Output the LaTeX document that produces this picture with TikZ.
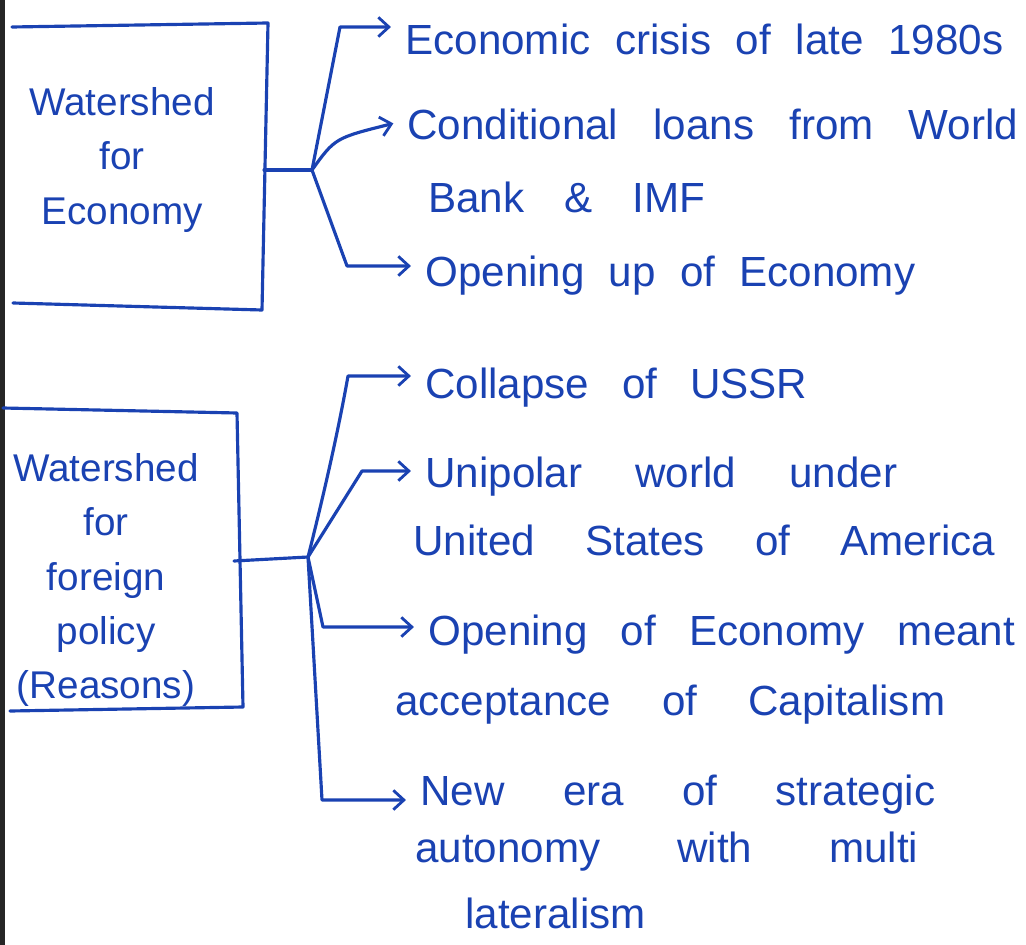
\documentclass[tikz,border=0pt]{standalone}
\usepackage{fontspec}
\setmainfont{Liberation Sans}
\usetikzlibrary{arrows.meta}

\definecolor{ink}{RGB}{26,66,178}
% stretch the word spaces of one line to a given width
\newcommand{\spread}[2]{\makebox[#1][s]{#2}}

\tikzset{
  pen/.style={draw=ink, line width=1.8pt, line cap=round, line join=round},
  branch/.style={pen, -{Straight Barb[length=6pt,width=11pt,line width=1.6pt]}, shorten >=8pt},
  point/.style={text=ink, inner sep=0pt, anchor=base west, font=\fontsize{24}{31}\selectfont},
  title/.style={text=ink, inner sep=0pt, align=center, font=\fontsize{22}{31}\selectfont},
}

\begin{document}
\begin{tikzpicture}[x=0.02cm,y=-0.02cm]
  \useasboundingbox (0,0) rectangle (1026,945);
  \fill[black!85] (0,0) rectangle (5,945);

  % first box: economy
  \draw[pen] (12,27) -- (268,23) -- (262,310) -- (13,303);
  \node[title] (eco) at (122,160) {Watershed\\for\\Economy};

  \coordinate (s1) at (264,170);
  \coordinate (j1) at (312,170);
  \coordinate (b1) at (340,27);
  \coordinate (c2) at (385,120);
  \coordinate (b3) at (347,266);

  \node[point] (e1) at (405,55) {\spread{11.96cm}{Economic crisis of late 1980s}};
  \node[point] (e2) at (407,140) {\spread{12.22cm}{Conditional loans from World}};
  \node[point] (e2b) at (428,213) {\spread{5.54cm}{Bank \& IMF}};
  \node[point] (e3) at (425,287) {\spread{9.8cm}{Opening up of Economy}};

  \draw[pen] (s1) -- (j1);
  \draw[branch] (j1) -- (b1) -- (b1 -| e1.west);
  \draw[branch] (j1) .. controls (335,138) .. (c2 -| e2.west);
  \draw[branch] (j1) -- (b3) -- (b3 -| e3.west);

  % second box: foreign policy
  \draw[pen] (3,408) -- (237,413) -- (243,707) -- (10,711);
  \node[title] (pol) at (106,580) {Watershed\\for\\foreign\\policy\\(Reasons)};

  \coordinate (s2) at (234,561);
  \coordinate (j2) at (308,557);
  \coordinate (a1) at (348,376);
  \coordinate (a2) at (362,471);
  \coordinate (a3) at (323,627);
  \coordinate (a4) at (322,800);

  \node[point] (f1) at (425,398) {\spread{7.64cm}{Collapse of USSR}};
  \node[point] (f2) at (425,487) {\spread{9.44cm}{Unipolar world under}};
  \node[point] (f2b) at (413,555) {\spread{11.64cm}{United States of America}};
  \node[point] (f3) at (428,645) {\spread{11.74cm}{Opening of Economy meant}};
  \node[point] (f3b) at (395,715) {\spread{11.0cm}{acceptance of Capitalism}};
  \node[point] (f4) at (420,805) {\spread{10.3cm}{New era of strategic}};
  \node[point] (f4b) at (415,862) {\spread{10.06cm}{autonomy with multi}};
  \node[point] (f4c) at (465,928) {lateralism};

  \draw[pen] (s2) -- (j2);
  \draw[branch] (j2) .. controls (330,470) and (342,410) .. (a1) -- (a1 -| f1.west);
  \draw[branch] (j2) -- (a2) -- (a2 -| f2.west);
  \draw[branch] (j2) -- (a3) -- (a3 -| f3.west);
  \draw[branch] (j2) -- (a4) -- (a4 -| f4.west);
\end{tikzpicture}
\end{document}
